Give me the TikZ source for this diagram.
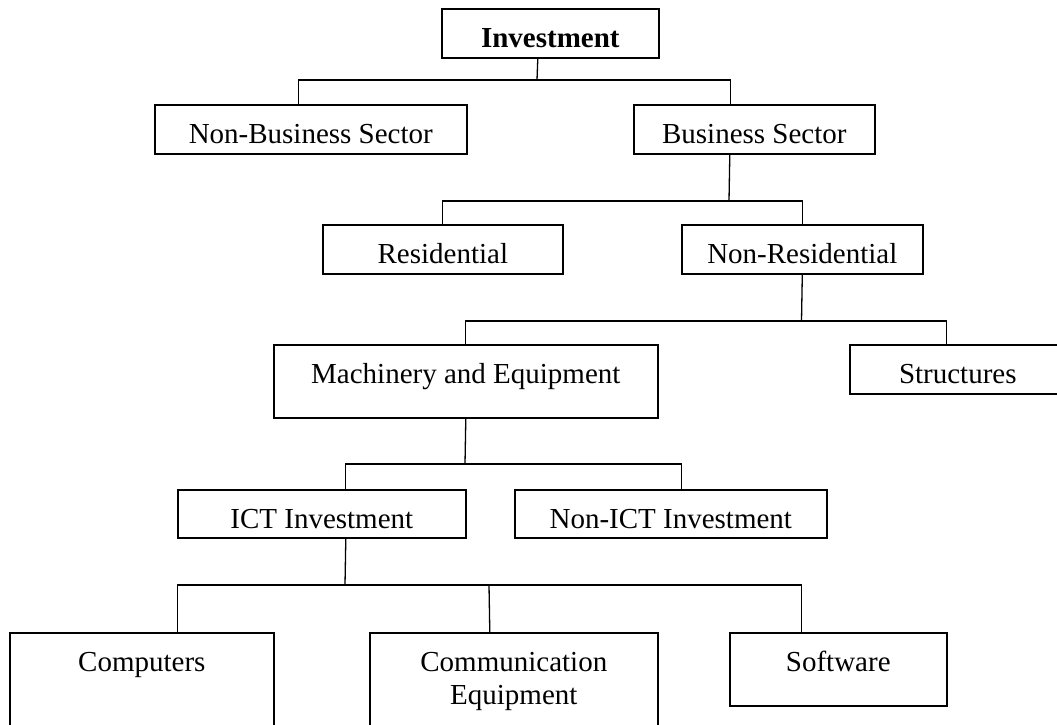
\documentclass[tikz,border=0pt]{standalone}
\usepackage{fontspec}
\setmainfont{Liberation Serif}
\usetikzlibrary{positioning,calc}

\begin{document}
\begin{tikzpicture}[x=1pt, y=-1pt,
        box/.style={draw, line width=1.6pt, anchor=north west, inner xsep=0pt, inner ysep=0pt,
            text height=39pt, text depth=10pt, font=\fontsize{29}{33}\selectfont},
        link/.style={line width=1.3pt}]
        \useasboundingbox (0, 0) rectangle (1057, 725);

        % Draw the boxes, top to bottom
        \node[box, minimum width=217pt, font=\fontsize{29}{33}\selectfont\bfseries] (inv) at (441, 8) {Investment};

        \node[box, minimum width=312pt] (nbs) at (154, 104) {Non-Business Sector};
        \node[box, minimum width=241pt] (bs) at (633, 104) {Business Sector};

        \node[box, minimum width=240pt] (res) at (322, 224) {Residential};
        \node[box, minimum width=241pt] (nres) at (681, 224) {Non-Residential};

        \node[box, minimum width=384pt, text depth=34pt] (mach) at (273, 344) {Machinery and Equipment};
        \node[box, minimum width=216pt] (struc) at (849, 344) {Structures};

        \node[box, minimum width=288pt, text depth=9pt] (ict) at (177, 489) {ICT Investment};
        \node[box, minimum width=312pt, text depth=9pt] (nict) at (514, 489) {Non-ICT Investment};

        \node[box, minimum width=264pt, text depth=74pt] (comp) at (9, 632) {Computers};
        \node[box, minimum width=288pt, text depth=74pt] (comm) at (369, 632)
            {\begin{tabular}[t]{@{}c@{}}Communication\\Equipment\end{tabular}};
        \node[box, minimum width=217pt, text depth=34pt] (soft) at (729, 632) {Software};



        % Investment to the two sectors
        \coordinate (J1) at (537, 80);
        \draw[link] ($(inv.south)+(-12.5, 0)$) -- (J1);
        \draw[link] ($(nbs.north)+(-12, 0)$) |- (J1) -| ($(bs.north)+(-23.5, 0)$);

        % Business sector to residential and non-residential
        \coordinate (J2) at (729, 201);
        \draw[link] ($(bs.south)+(-24.5, 0)$) -- (J2);
        \draw[link] (res.north) |- (J2) -| (nres.north);

        % Non-residential to machinery and structures
        \coordinate (J3) at (801.5, 321);
        \draw[link] (nres.south) -- (J3);
        \draw[link] (mach.north) |- (J3) -| ($(struc.north)+(-11, 0)$);

        % Machinery to ICT and non-ICT
        \coordinate (J4) at (465, 464);
        \draw[link] (mach.south) -- (J4);
        \draw[link] ($(ict.north)+(24, 0)$) |- (J4) -| ($(nict.north)+(11, 0)$);

        % ICT to its three parts
        \coordinate (J5) at (345, 585);
        \coordinate (J5m) at (489, 585);
        \draw[link] ($(ict.south)+(24, 0)$) -- (J5);
        \draw[link] ($(comp.north)+(36, 0)$) |- (J5) -| ($(soft.north)+(-36.5, 0)$);
        \draw[link] ($(comm.north)+(-24, 0)$) -- (J5m);

\end{tikzpicture}
\end{document}
